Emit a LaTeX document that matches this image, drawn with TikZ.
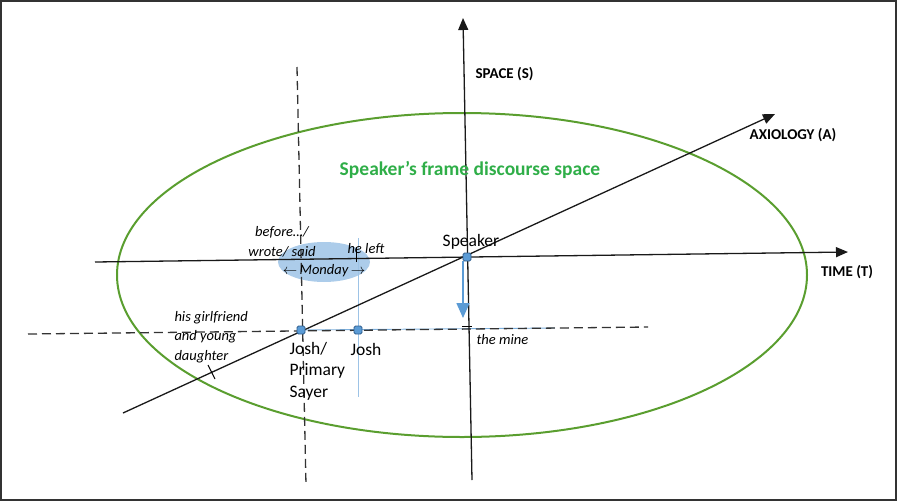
\documentclass[tikz,border=0pt]{standalone}
\usepackage{fontspec}
\setmainfont{Carlito}
\usetikzlibrary{arrows.meta}
\definecolor{ellgreen}{HTML}{5A9E2F}
\definecolor{txtgreen}{HTML}{2FAE48}
\definecolor{blueA}{HTML}{5B9BD5}
\definecolor{blueD}{HTML}{2F5F8F}
\definecolor{blueL}{HTML}{9DC3E6}
\begin{document}
\begin{tikzpicture}[x=1pt,y=-1pt,
  frame/.style={draw=black!80, line width=1.5pt},
  axis/.style={line width=1.3pt, black!90, -{Triangle[length=12pt,width=10pt]}},
  dashline/.style={line width=1.3pt, black!80, dash pattern=on 9pt off 5pt},
  pt/.style={draw=blueD, fill=blueA, rounded corners=1.5pt, minimum size=8pt, inner sep=0pt, line width=0.9pt},
  lab/.style={font=\fontsize{15}{17}\selectfont\bfseries},
  ital/.style={font=\fontsize{14.5}{19.5}\selectfont\itshape},
  nmlab/.style={font=\fontsize{17.5}{21.5}\selectfont},
  ttl/.style={font=\fontsize{19.5}{22}\selectfont\bfseries, text=txtgreen}]
\useasboundingbox (0,0) rectangle (897,501);
\draw[frame] (1,1) rectangle (896,500);
% discourse space
\draw[ellgreen, line width=2pt] (462,275) ellipse [x radius=345, y radius=162];
\fill[blueL, opacity=0.85] (324,262) ellipse [x radius=46, y radius=20];
% coordinates
\coordinate (Sbot) at (472,480); \coordinate (Stop) at (463,18);
\coordinate (Tl) at (95,262); \coordinate (Tr) at (848,252);
\coordinate (Al) at (123,413); \coordinate (Ar) at (775,114);
\coordinate (Dtop) at (297,67); \coordinate (Dbot) at (306,485);
\coordinate (Hl) at (28,334); \coordinate (Hr) at (648,327);
\coordinate (Btop) at (358,238); \coordinate (Bbot) at (358,397);
\coordinate (Bmid) at (555,328);
\coordinate (arrowend) at (463,318);
% thin blue lines
\draw[blueL, line width=0.9pt] (Btop) -- (Bbot);
\draw[blueA!80, line width=0.9pt] (301,330) -- (Bmid);
% dashed lines
\draw[dashline] (Dtop) -- (Dbot);
\draw[dashline] (Hl) -- (Hr);
% axes
\draw[axis] (Sbot) -- (Stop);
\draw[axis] (Tl) -- (Tr);
\draw[axis] (Al) -- (Ar);
% ticks
\draw[line width=1pt] (356,247) -- (356,262);
\draw[line width=1pt] (462,326) -- (472,326);
\draw[line width=1pt] (208,365) -- (215,379);
% points
\node[pt] (spk) at (467,257) {};
\node[pt] (josh1) at (301,330) {};
\node[pt] (josh2) at (358,330) {};
\draw[blueA, line width=1.6pt, -{Triangle[length=15pt,width=13pt]}] (spk.south -| arrowend) -- (arrowend);
% labels
\node[lab, anchor=west] (slab) at (472,74) {SPACE (S)};
\node[lab] (alab) at (793,135) {AXIOLOGY (A)};
\node[lab] (tlab) at (847,272) {TIME (T)};
\node[ttl] (title) at (470,170) {Speaker’s frame discourse space};
\node[nmlab] (spklab) at (471,242) {Speaker};
\node[nmlab, anchor=west, align=left] (j1lab) at (286,371) {Josh/\\Primary\\Sayer};
\node[nmlab, anchor=west] (j2lab) at (347,349) {Josh};
\node[ital, anchor=west] (mine) at (473,340) {the mine};
\node[ital, anchor=west, align=left] (girl) at (171,337) {his girlfriend\\and young\\daughter};
\node[ital, align=center] (wrote) at (282,242) {before…/\\wrote/ said};
\node[ital, anchor=west] (hleft) at (344,249) {he left};
\node[ital] (monday) at (324,271) {$\leftarrow$\,Monday\,$\rightarrow$};
\end{tikzpicture}
\end{document}
